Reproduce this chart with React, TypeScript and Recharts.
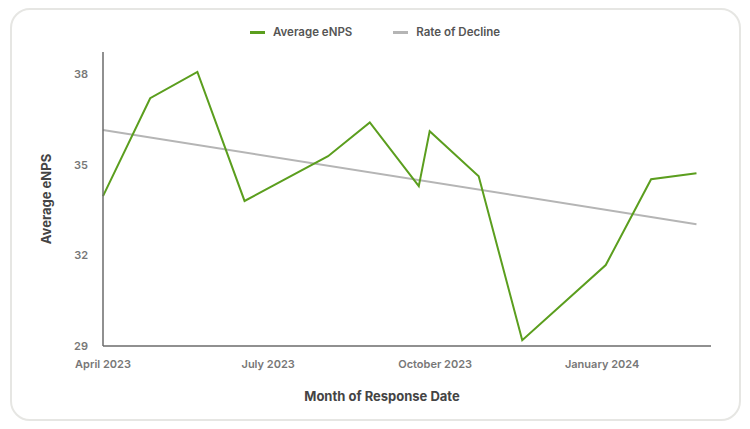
import { LineChart, Line, XAxis, YAxis } from "recharts";

const responseDates = [
  "2023-04-01", "2023-04-27", "2023-05-23", "2023-06-18", "2023-08-03", "2023-08-26",
  "2023-09-22", "2023-09-28", "2023-10-25", "2023-11-18", "2024-01-03", "2024-01-28", "2024-02-22",
];
const averageEnps = [33.96, 37.2, 38.07, 33.8, 35.28, 36.4, 34.29, 36.11, 34.62, 29.19, 31.68, 34.52, 34.72];

const trendDates = ["2023-04-01", "2024-02-22"];
const trendValues = [36.15, 33.03];

const tickDates = ["2023-04-01", "2023-07-01", "2023-10-01", "2024-01-01"];
const yTicks = [29, 32, 35, 38];

const MONTHS = ["January", "February", "March", "April", "May", "June", "July", "August", "September", "October", "November", "December"];

const toTime = (d: string) => new Date(d + "T00:00:00Z").getTime();

const enpsData = responseDates.map((d, i) => ({ date: toTime(d), enps: averageEnps[i] }));
const trendData = trendDates.map((d, i) => ({ date: toTime(d), trend: trendValues[i] }));

const GREEN = "#5b9e1e";
const GREY = "#b5b5b5";
const FONT = "Inter, 'Noto Sans', sans-serif";

function formatMonth(t: number) {
  const d = new Date(t);
  return `${MONTHS[d.getUTCMonth()]} ${d.getUTCFullYear()}`;
}

function LegendBox() {
  const items = [
    { label: "Average eNPS", color: GREEN },
    { label: "Rate of Decline", color: GREY },
  ];
  return (
    <div style={{ display: "flex", justifyContent: "center", gap: 41, fontFamily: FONT, fontSize: 11.5, fontWeight: 600, color: "#555" }}>
      {items.map((it) => (
        <div key={it.label} style={{ display: "flex", alignItems: "center", gap: 8 }}>
          <span style={{ display: "inline-block", width: 15, height: 3, background: it.color }} />
          <span>{it.label}</span>
        </div>
      ))}
    </div>
  );
}

export default function App() {
  return (
    <div style={{ position: "absolute", left: 0, top: 0, width: 750, height: 429, background: "#fff" }}>
      <div
        style={{
          position: "absolute",
          left: 10,
          top: 8,
          width: 727,
          height: 409,
          border: "2px solid #e6e6e3",
          borderRadius: 20,
        }}
      />
      <div style={{ position: "absolute", left: 0, top: 25, width: 750 }}>
        <LegendBox />
      </div>
      <div style={{ position: "absolute", left: 0, top: 0 }}>
        <LineChart width={750} height={429} margin={{ top: 52, right: 39, bottom: 0, left: 0 }}>
          <XAxis
            dataKey="date"
            type="number"
            scale="time"
            domain={[toTime("2023-04-01"), toTime("2024-03-01")]}
            ticks={tickDates.map(toTime)}
            tickFormatter={formatMonth}
            allowDuplicatedCategory={false}
            height={83}
            tickLine={false}
            tickMargin={8}
            axisLine={{ stroke: "#6b6b6b", strokeWidth: 1.5 }}
            tick={{ fill: "#777", fontSize: 11, fontWeight: 600, fontFamily: FONT }}
            label={{ value: "Month of Response Date", position: "insideBottom", offset: 28, dx: -25, fill: "#444", fontSize: 13, fontWeight: 700, fontFamily: FONT }}
          />
          <YAxis
            type="number"
            domain={[29, 38.73]}
            ticks={yTicks}
            width={103}
            tickLine={false}
            tickMargin={9}
            axisLine={{ stroke: "#6b6b6b", strokeWidth: 1.5 }}
            tick={{ fill: "#777", fontSize: 11, fontWeight: 600, fontFamily: FONT }}
            label={{ value: "Average eNPS", angle: -90, position: "insideLeft", offset: 46, style: { textAnchor: "middle" }, fill: "#444", fontSize: 13, fontWeight: 700, fontFamily: FONT }}
          />
          <Line data={trendData} dataKey="trend" stroke={GREY} strokeWidth={2} dot={false} activeDot={false} isAnimationActive={false} />
          <Line data={enpsData} dataKey="enps" stroke={GREEN} strokeWidth={2} dot={false} activeDot={false} isAnimationActive={false} />
        </LineChart>
      </div>
    </div>
  );
}
